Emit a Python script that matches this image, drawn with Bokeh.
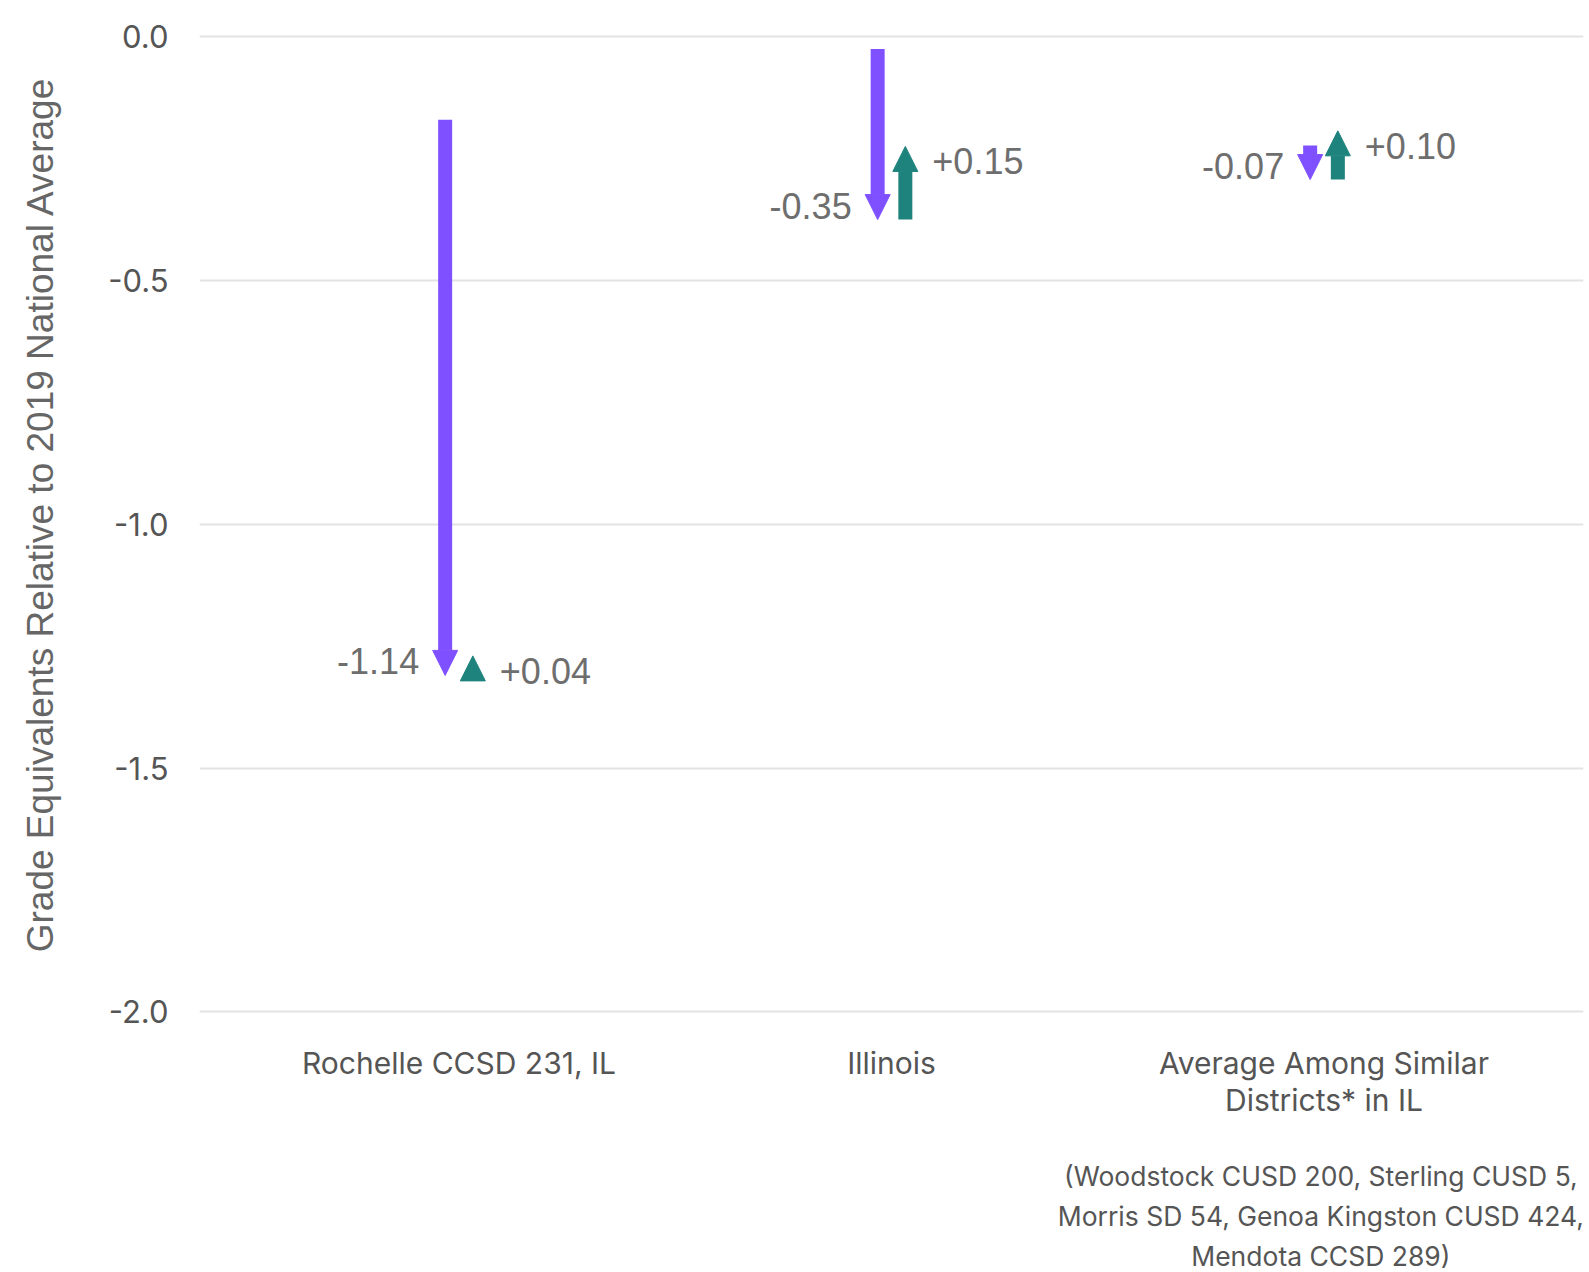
import numpy as np
from bokeh.plotting import figure
from bokeh.models import (ColumnDataSource, Arrow, NormalHead, FixedTicker,
                          Range1d, LinearAxis, PrintfTickFormatter)
from bokeh.core.properties import value
from bokeh.embed import file_html
from bokeh.resources import INLINE

# ---------------- data ----------------
categories = ["Rochelle CCSD 231, IL", "Illinois", "Average Among Similar\nDistricts* in IL"]
start_values = [-0.17, -0.025, -0.223]     # starting level (top of purple arrow)
declines = [-1.14, -0.35, -0.07]           # purple arrows
recoveries = [0.04, 0.15, 0.10]            # teal arrows
y_ticks = [-2.0, -1.5, -1.0, -0.5, 0.0]
y_title = "Grade Equivalents Relative to 2019 National Average"
footnote = ("(Woodstock CUSD 200, Sterling CUSD 5,\n"
            "Morris SD 54, Genoa Kingston CUSD 424,\n"
            "Mendota CCSD 289)")

# ---------------- style ----------------
PURPLE = "#7f50ff"
TEAL = "#1e827d"
GRID = "#e3e3e3"
AXIS_TXT = "#555555"
VAL_TXT = "#6e6e6e"
DODGE = 0.032

idx = np.arange(len(categories))
start = np.array(start_values)
low = start + np.array(declines)
high = low + np.array(recoveries)

p = figure(frame_width=1384, frame_height=1014,
           x_range=Range1d(-0.6, 2.6), y_range=Range1d(-2.02, 0.06),
           output_backend="svg", toolbar_location=None,
           min_border_left=199, min_border_top=7, min_border_right=2,
           min_border_bottom=0)
p.outline_line_color = None
p.background_fill_color = "white"
p.border_fill_color = "white"

# grid
p.xgrid.grid_line_color = None
p.ygrid.ticker = FixedTicker(ticks=y_ticks)
p.ygrid.grid_line_color = GRID
p.ygrid.grid_line_width = 2

# y axis
p.yaxis.ticker = FixedTicker(ticks=y_ticks)
p.yaxis.formatter = PrintfTickFormatter(format="%.1f")
p.yaxis.axis_line_color = None
p.yaxis.major_tick_line_color = None
p.yaxis.minor_tick_line_color = None
p.yaxis.major_label_text_font = "Inter"
p.yaxis.major_label_text_font_size = "31px"
p.yaxis.major_label_text_color = AXIS_TXT
p.yaxis.major_label_standoff = 25
p.yaxis.axis_label = y_title
p.yaxis.axis_label_text_font = "Liberation Sans"
p.yaxis.axis_label_text_font_size = "37px"
p.yaxis.axis_label_text_font_style = "normal"
p.yaxis.axis_label_text_color = "#666666"
p.yaxis.axis_label_standoff = 44

# x axis (categories)
p.xaxis.ticker = FixedTicker(ticks=[int(i) for i in idx])
p.xaxis.major_label_overrides = {int(i): c for i, c in zip(idx, categories)}
p.xaxis.axis_line_color = None
p.xaxis.major_tick_line_color = None
p.xaxis.minor_tick_line_color = None
p.xaxis.major_label_text_font = "Inter"
p.xaxis.major_label_text_font_size = "30px"
p.xaxis.major_label_text_color = AXIS_TXT
p.xaxis.major_label_text_line_height = 1.03
p.xaxis.major_label_standoff = 17

# footnote under the third category (second bottom axis)
last = int(idx[-1])
foot_axis = LinearAxis(ticker=FixedTicker(ticks=[last]),
                       major_label_overrides={last: footnote})
foot_axis.axis_line_color = None
foot_axis.major_tick_line_color = None
foot_axis.minor_tick_line_color = None
foot_axis.major_label_text_font = "Inter"
foot_axis.major_label_text_font_size = "26.5px"
foot_axis.major_label_text_color = "#555555"
foot_axis.major_label_text_line_height = 1.25
foot_axis.major_label_standoff = 33
p.add_layout(foot_axis, "below")

# arrows
down_src = ColumnDataSource(dict(x=idx - DODGE, y0=start, y1=low,
                                 lab=[f"{d:.2f}" for d in declines]))
up_src = ColumnDataSource(dict(x=idx + DODGE, y0=low, y1=high,
                               lab=[f"{r:+.2f}" for r in recoveries]))

p.add_layout(Arrow(end=NormalHead(size=25, fill_color=PURPLE, line_color=PURPLE, line_width=1),
                   x_start="x", y_start="y0", x_end="x", y_end="y1",
                   source=down_src, line_color=PURPLE, line_width=14))
p.add_layout(Arrow(end=NormalHead(size=25, fill_color=TEAL, line_color=TEAL, line_width=1),
                   x_start="x", y_start="y0", x_end="x", y_end="y1",
                   source=up_src, line_color=TEAL, line_width=14))

# value labels
p.text(x="x", y="y1", text="lab", source=down_src, text_align="right",
       text_baseline="middle", x_offset=-26, y_offset=-14,
       text_font=value("Liberation Sans"), text_font_size="36px", text_color=VAL_TXT)
p.text(x="x", y="y1", text="lab", source=up_src, text_align="left",
       text_baseline="middle", x_offset=27, y_offset=15,
       text_font=value("Liberation Sans"), text_font_size="36px", text_color=VAL_TXT)

open("out.html", "w").write(file_html(p, INLINE))
